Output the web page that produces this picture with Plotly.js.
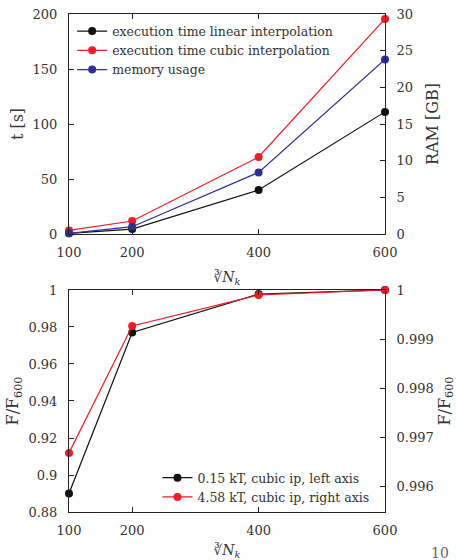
<!DOCTYPE html>
<html>
<head>
<meta charset="utf-8">
<script src="https://cdn.plot.ly/plotly-3.0.1.min.js"></script>
<style>html,body{margin:0;padding:0;background:#fff;}#chart{width:456px;height:560px;}</style>
</head>
<body>
<div id="chart"></div>
<script>
// Top panel data
var nk = [100, 200, 400, 600];
var timeLinear = [0.6, 4.5, 40, 111];
var timeCubic = [3.3, 11.8, 70, 195.5];
var ramGB = [0.1, 1.0, 8.4, 23.8];
// Bottom panel data
var fLeft = [0.890, 0.977, 0.9978, 1.0];
var fRight = [0.99669, 0.99927, 0.99990, 1.0];
// Tick labels
var xTicks = [100, 200, 400, 600];
var xTickText = ['100', '200', '400', '600'];
var tTicks = [0, 50, 100, 150, 200];
var tTickText = ['0', '50', '100', '150', '200'];
var ramTicks = [0, 5, 10, 15, 20, 25, 30];
var ramTickText = ['0', '5', '10', '15', '20', '25', '30'];
var fLeftTicks = [0.88, 0.9, 0.92, 0.94, 0.96, 0.98, 1];
var fLeftTickText = ['0.88', '0.9', '0.92', '0.94', '0.96', '0.98', '1'];
var fRightTicks = [0.996, 0.997, 0.998, 0.999, 1];
var fRightTickText = ['0.996', '0.997', '0.998', '0.999', '1'];

var FONT = "'DejaVu Serif', serif";
var TXT = '#333';
var BLACK = '#111111', RED = '#ee1c24', BLUE = '#2e3192';

function tr(x, y, name, color, xa, ya, leg) {
  return {x: x, y: y, name: name, type: 'scatter', mode: 'lines+markers',
    xaxis: xa, yaxis: ya, legend: leg, cliponaxis: false,
    line: {color: color, width: 1.2}, marker: {color: color, size: 8}};
}

var data = [
  tr(nk, timeLinear, 'execution time linear interpolation', BLACK, 'x', 'y', 'legend'),
  tr(nk, timeCubic, 'execution time cubic interpolation', RED, 'x', 'y', 'legend'),
  tr(nk, ramGB, 'memory usage', BLUE, 'x', 'y2', 'legend'),
  tr(nk, fLeft, '0.15 kT, cubic ip, left axis', BLACK, 'x2', 'y3', 'legend2'),
  tr(nk, fRight, '4.58 kT, cubic ip, right axis', RED, 'x2', 'y4', 'legend2')
];

var xTitle = '∛<i>N</i><sub><i>k</i></sub>';
function xax(anchor, standoff) {
  return {anchor: anchor, domain: [0, 1], range: [100, 600], tickvals: xTicks, ticktext: xTickText,
    ticks: 'inside', ticklen: 5, tickcolor: '#222', showline: true, linecolor: '#222', linewidth: 1,
    mirror: 'ticks', showgrid: false, zeroline: false, ticklabelstandoff: 6,
    title: {text: xTitle, standoff: standoff, font: {size: 14}}};
}
function yax(opts) {
  var o = {ticks: 'inside', ticklen: 5, tickcolor: '#222', showline: true, linecolor: '#222', linewidth: 1,
    showgrid: false, zeroline: false, ticklabelstandoff: 8};
  for (var k in opts) o[k] = opts[k];
  return o;
}

var topDom = [0.5582, 1];
var botDom = [0, 0.4458];

var layout = {
  width: 456, height: 560,
  margin: {l: 69, r: 71, t: 14, b: 48},
  paper_bgcolor: '#fff', plot_bgcolor: '#fff',
  font: {family: FONT, size: 13, color: TXT},
  showlegend: true,
  xaxis: xax('y', 13),
  xaxis2: xax('y3', 16),
  yaxis: yax({domain: topDom, anchor: 'x', range: [0, 200], tickvals: tTicks, ticktext: tTickText,
    title: {text: 't [s]', standoff: 4}}),
  yaxis2: yax({domain: topDom, anchor: 'x', overlaying: 'y', side: 'right', range: [0, 30],
    tickvals: ramTicks, ticktext: ramTickText, title: {text: 'RAM [GB]', standoff: 14}}),
  yaxis3: yax({domain: botDom, anchor: 'x2', range: [0.88, 1], tickvals: fLeftTicks, ticktext: fLeftTickText,
    title: {text: 'F/F<sub>600</sub>', standoff: 5}}),
  yaxis4: yax({domain: botDom, anchor: 'x2', overlaying: 'y3', side: 'right', range: [0.99549, 1],
    tickvals: fRightTicks, ticktext: fRightTickText, title: {text: 'F/F<sub>600</sub>', standoff: 18}}),
  legend: {x: 0.01, y: 0.995, xanchor: 'left', yanchor: 'top', bgcolor: 'rgba(255,255,255,0)',
    font: {size: 12.5, color: TXT}, tracegroupgap: 0, itemwidth: 30},
  legend2: {x: 0.28, y: 0.0, xanchor: 'left', yanchor: 'bottom', bgcolor: 'rgba(255,255,255,0)',
    font: {size: 12.5, color: TXT}, tracegroupgap: 0, itemwidth: 30},
  annotations: [{text: '10', xref: 'paper', yref: 'paper', x: 1.14, y: -0.082, showarrow: false,
    xanchor: 'left', yanchor: 'middle', font: {size: 14, color: '#666'}}]
};

Plotly.newPlot('chart', data, layout, {displayModeBar: false, staticPlot: true});
</script>
</body>
</html>
